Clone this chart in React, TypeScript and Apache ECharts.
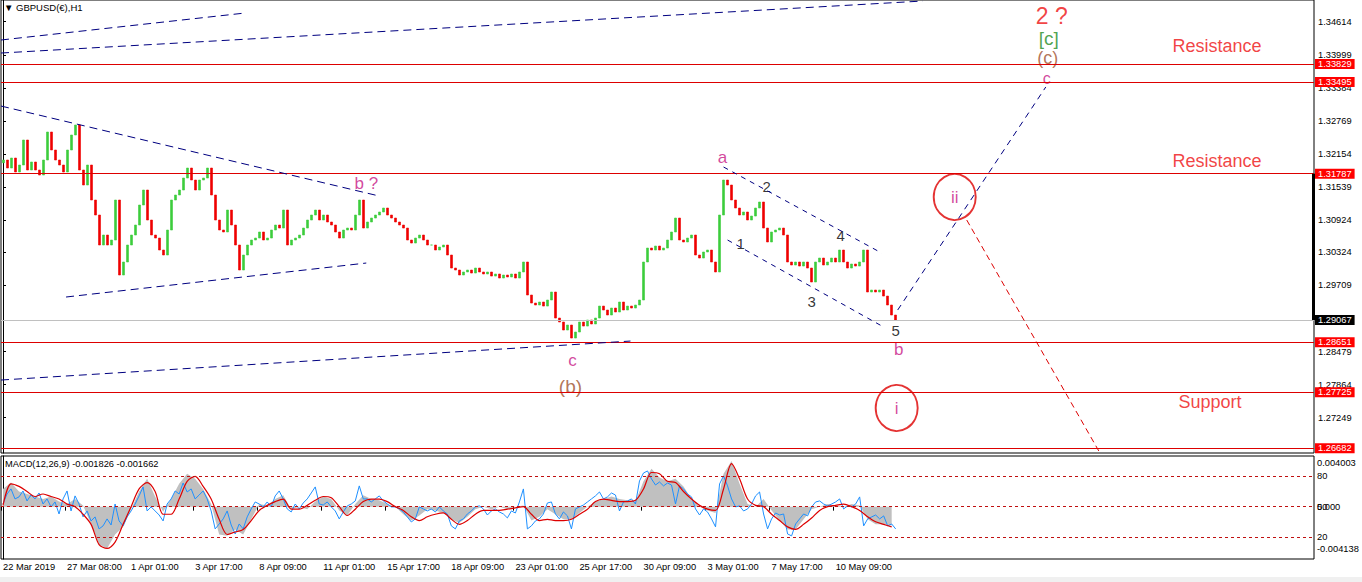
import React, { useEffect, useRef } from "react";
import * as echarts from "echarts";

// ---------- data ----------
const tickLabels = [
  "22 Mar 2019", "27 Mar 08:00", "1 Apr 01:00", "3 Apr 17:00", "8 Apr 09:00",
  "11 Apr 01:00", "15 Apr 17:00", "18 Apr 09:00", "23 Apr 01:00", "25 Apr 17:00",
  "30 Apr 09:00", "3 May 01:00", "7 May 17:00", "10 May 09:00",
];

const priceTickLabels = [
  "1.34614", "1.33999", "1.33384", "1.32769", "1.32154", "1.31539", "1.30924",
  "1.30324", "1.29709", "1.28479", "1.27864", "1.27249",
];

// 4-hour closes (GBPUSD)
const firstOpen = 1.3199;
const closes = [
  1.32042, 1.31893, 1.32079, 1.31819, 1.31949, 1.32414, 1.31856, 1.32005, 1.31856, 1.31763,
  1.32042, 1.32563, 1.32228, 1.32042, 1.31949, 1.31819, 1.32228, 1.32507, 1.32693, 1.31856,
  1.31577, 1.31949, 1.31298, 1.31019, 1.30461, 1.30647, 1.30461, 1.30554, 1.31298, 1.29903,
  1.30145, 1.30461, 1.30647, 1.30833, 1.31205, 1.31484, 1.30926, 1.30647, 1.30591, 1.30368,
  1.30275, 1.30740, 1.31298, 1.31391, 1.31484, 1.31707, 1.31893, 1.31670, 1.31484, 1.31670,
  1.31707, 1.31893, 1.31391, 1.30926, 1.30740, 1.30703, 1.31112, 1.30833, 1.30461, 1.29996,
  1.30275, 1.30461, 1.30554, 1.30591, 1.30703, 1.30554, 1.30591, 1.30740, 1.30833, 1.30777,
  1.31112, 1.30461, 1.30554, 1.30591, 1.30647, 1.30777, 1.30926, 1.31019, 1.31112, 1.30926,
  1.31019, 1.30889, 1.30833, 1.30703, 1.30591, 1.30740, 1.30777, 1.30740, 1.31019, 1.31298,
  1.30777, 1.30889, 1.30963, 1.31019, 1.31075, 1.31149, 1.31019, 1.30963, 1.30889, 1.30833,
  1.30777, 1.30554, 1.30498, 1.30591, 1.30647, 1.30554, 1.30461, 1.30461, 1.30368, 1.30424,
  1.30461, 1.30275, 1.30033, 1.29996, 1.29903, 1.29959, 1.29996, 1.29940, 1.30033, 1.29959,
  1.29922, 1.29959, 1.29884, 1.29922, 1.29847, 1.29903, 1.29866, 1.29922, 1.29847, 1.29959,
  1.30145, 1.29531, 1.29382, 1.29345, 1.29401, 1.29326, 1.29438, 1.29587, 1.29103, 1.29029,
  1.28880, 1.28973, 1.28731, 1.28843, 1.29029, 1.28954, 1.29066, 1.28992, 1.29103, 1.29326,
  1.29252, 1.29159, 1.29289, 1.29215, 1.29401, 1.29252, 1.29326, 1.29289, 1.29345, 1.29438,
  1.30145, 1.30405, 1.30368, 1.30442, 1.30368, 1.30405, 1.30554, 1.30703, 1.30963, 1.30554,
  1.30517, 1.30591, 1.30647, 1.30275, 1.30219, 1.30331, 1.30368, 1.30145, 1.29959, 1.31019,
  1.31670, 1.31577, 1.31298, 1.31149, 1.31019, 1.31075, 1.30926, 1.31000, 1.31149, 1.31261,
  1.30777, 1.30517, 1.30703, 1.30740, 1.30777, 1.30647, 1.30145, 1.30089, 1.30145, 1.30070,
  1.30145, 1.30033, 1.29773, 1.30145, 1.30219, 1.30089, 1.30145, 1.30219, 1.30145, 1.30368,
  1.30145, 1.30033, 1.30108, 1.30070, 1.30145, 1.30368, 1.29587, 1.29624, 1.29587, 1.29624,
  1.29512, 1.29345, 1.29159, 1.29066,
];

const resistanceLevels = [1.33829, 1.33495, 1.31787];
const supportLevels = [1.28651, 1.27725, 1.26682];
const currentPrice = 1.29067;

// MACD main (histogram), one value per 8 hours
const macdMain = [
  0.0014, 0.0019, 0.0012, 0.0010, 0.0008, 0.0006, 0.0008, 0.0004, 0.0002, 0.0006,
  0.0001, -0.0014, -0.0030, -0.0033, -0.0022, -0.0016, -0.0002, 0.0012, 0.0022, 0.0008,
  -0.0004, 0.0006, 0.0018, 0.0026, 0.0022, 0.0014, 0.0002, -0.0022, -0.0023, -0.0018,
  -0.0022, -0.0010, 0.0002, 0.0001, 0.0006, 0.0009, -0.0002, 0.0000, -0.0002, 0.0004,
  0.0008, 0.0006, -0.0003, -0.0007, 0.0002, 0.0009, 0.0006, 0.0005, 0.0002, 0.0000,
  -0.0006, -0.0011, -0.0007, -0.0002, -0.0003, -0.0005, -0.0010, -0.0013, -0.0008, -0.0002,
  0.0000, -0.0002, 0.0000, -0.0002, 0.0000, 0.0001, -0.0011, -0.0008, -0.0002, -0.0006,
  -0.0010, -0.0010, -0.0005, 0.0000, 0.0004, 0.0006, 0.0008, 0.0006, 0.0005, 0.0004,
  0.0020, 0.0030, 0.0023, 0.0020, 0.0022, 0.0016, 0.0006, 0.0000, -0.0003, -0.0005,
  0.0026, 0.0036, 0.0018, 0.0002, 0.0000, 0.0006, -0.0003, -0.0011, -0.0018, -0.0018,
  -0.0010, -0.0002, 0.0000, 0.0002, 0.0001, 0.0000, 0.0002, 0.0001, -0.0010, -0.0014,
  -0.0014, -0.0015,
];

// MACD signal, one value per 8 hours
const macdSignal = [
  0.0001, 0.0018, 0.0016, 0.0012, 0.0008, 0.0010, 0.0008, 0.0006, 0.0002, 0.0000,
  -0.0006, -0.0014, -0.0030, -0.0033, -0.0028, -0.0014, 0.0000, 0.0014, 0.0019, 0.0012,
  -0.0006, -0.0006, 0.0006, 0.0020, 0.0024, 0.0016, 0.0006, -0.0010, -0.0022, -0.0020,
  -0.0018, -0.0011, -0.0003, 0.0001, 0.0004, 0.0006, -0.0002, -0.0002, 0.0001, 0.0005,
  0.0008, 0.0007, 0.0000, -0.0007, -0.0002, 0.0004, 0.0006, 0.0006, 0.0004, 0.0000,
  -0.0003, -0.0008, -0.0011, -0.0008, -0.0006, -0.0005, -0.0010, -0.0014, -0.0011, -0.0006,
  -0.0003, -0.0003, -0.0003, -0.0002, -0.0001, 0.0000, -0.0006, -0.0011, -0.0010, -0.0011,
  -0.0011, -0.0010, -0.0006, -0.0002, 0.0004, 0.0006, 0.0005, 0.0004, 0.0004, 0.0005,
  0.0014, 0.0027, 0.0026, 0.0020, 0.0019, 0.0012, 0.0006, 0.0001, -0.0002, -0.0003,
  0.0014, 0.0034, 0.0022, 0.0006, 0.0001, 0.0000, -0.0006, -0.0011, -0.0016, -0.0018,
  -0.0014, -0.0009, -0.0003, 0.0000, 0.0001, 0.0002, 0.0000, -0.0003, -0.0008, -0.0012,
  -0.0014, -0.0016,
];

// fast (blue) line, one value per 4 hours
const macdFast = [
  0.00021, 0.00100, 0.00140, 0.00061, 0.00077, 0.00124, 0.00045, 0.00092, 0.00061, 0.00108,
  0.00021, 0.00061, -0.00002, 0.00037, -0.00058, 0.00061, 0.00124, -0.00034, 0.00085, 0.00021,
  -0.00081, -0.00034, -0.00113, -0.00081, -0.00176, -0.00152, -0.00097, -0.00145, 0.00021, -0.00113,
  -0.00152, -0.00081, -0.00034, 0.00021, 0.00085, 0.00156, -0.00034, -0.00002, -0.00034, -0.00066,
  -0.00113, 0.00021, 0.00061, 0.00124, 0.00100, 0.00187, 0.00116, 0.00140, 0.00061, 0.00092,
  0.00124, 0.00061, -0.00034, -0.00176, -0.00137, -0.00097, -0.00034, -0.00145, -0.00216, -0.00137,
  -0.00176, -0.00081, -0.00018, 0.00037, 0.00021, -0.00002, 0.00037, -0.00002, 0.00085, 0.00124,
  0.00061, -0.00018, -0.00042, 0.00021, -0.00018, 0.00029, 0.00061, 0.00108, 0.00156, 0.00021,
  0.00013, 0.00037, -0.00002, -0.00034, -0.00097, -0.00042, 0.00006, 0.00021, 0.00045, 0.00164,
  0.00061, 0.00061, 0.00037, 0.00061, 0.00085, 0.00045, 0.00021, -0.00002, -0.00002, -0.00018,
  -0.00042, -0.00081, -0.00121, -0.00097, -0.00002, -0.00018, -0.00034, -0.00018, -0.00042, -0.00002,
  -0.00034, -0.00058, -0.00152, -0.00176, -0.00113, -0.00097, -0.00058, -0.00034, -0.00002, 0.00006,
  -0.00018, -0.00066, -0.00034, -0.00018, -0.00042, -0.00058, -0.00089, -0.00034, -0.00050, 0.00037,
  0.00140, -0.00176, -0.00152, -0.00113, -0.00097, -0.00058, 0.00029, 0.00037, -0.00058, -0.00097,
  -0.00042, -0.00073, -0.00176, -0.00018, -0.00002, 0.00013, 0.00037, 0.00061, 0.00085, 0.00116,
  0.00061, 0.00077, 0.00108, 0.00092, -0.00034, 0.00037, 0.00045, 0.00061, 0.00021, 0.00203,
  0.00266, 0.00282, 0.00219, 0.00171, 0.00195, 0.00164, 0.00187, 0.00171, 0.00021, 0.00164,
  0.00140, 0.00100, 0.00077, -0.00018, -0.00066, -0.00018, -0.00042, -0.00097, -0.00160, 0.00179,
  0.00243, 0.00164, 0.00061, -0.00002, 0.00006, -0.00034, -0.00018, 0.00021, 0.00085, 0.00116,
  -0.00058, -0.00176, -0.00097, -0.00050, -0.00066, -0.00058, -0.00216, -0.00231, -0.00137, -0.00097,
  -0.00058, -0.00073, -0.00002, 0.00037, 0.00045, 0.00021, 0.00006, 0.00021, 0.00037, 0.00061,
  -0.00018, 0.00006, -0.00002, 0.00021, 0.00077, -0.00152, -0.00097, -0.00081, -0.00066, -0.00097,
  -0.00073, -0.00152, -0.00137, -0.00176,
];

const macdLevels = [0.0024, 0, -0.0024];
const macdLevelLabels = ["80", "50", "20"];
const macdAxisValues = [0.00345, 0, -0.00335];
const macdAxisLabels = ["0.004003", "0.000", "-0.004138"];

// ---------- styles ----------
const FONT = "Liberation Sans";
const RED = "#dd0000";
const TEXT_RED = "#ee1111";
const MAGENTA = "#c71585";
const BROWN = "#a0522d";
const GREEN = "#228b22";
const NAVY = "#000080";
const SLOTS = 328;

// drawn trend lines: [barIndex, price] pairs
const trendLines = [
  { a: [-0.5, 1.34274], b: [60.5, 1.34776], color: NAVY, dash: [8, 5] },
  { a: [-0.5, 1.34032], b: [229.75, 1.34999], color: NAVY, dash: [8, 5] },
  { a: [-0.5, 1.33046], b: [94, 1.31372], color: NAVY, dash: [8, 5] },
  { a: [15.75, 1.29494], b: [90.75, 1.30126], color: NAVY, dash: [8, 5] },
  { a: [-0.5, 1.2795], b: [156.75, 1.28675], color: NAVY, dash: [8, 5] },
  { a: [180, 1.31912], b: [219.5, 1.30312], color: NAVY, dash: [5, 5] },
  { a: [181, 1.30554], b: [220, 1.28936], color: NAVY, dash: [5, 5] },
  { a: [223.5, 1.29252], b: [260.5, 1.334], color: NAVY, dash: [6, 5] },
  { a: [240.75, 1.30926], b: [273.75, 1.26629], color: RED, dash: [6, 4] },
];

const waveLabels = [
  { t: "b ?", at: [90.75, 1.31614], color: MAGENTA, size: 17 },
  { t: "c", at: [142.25, 1.28322], color: MAGENTA, size: 17 },
  { t: "(b)", at: [141.75, 1.27838], color: BROWN, size: 19 },
  { t: "a", at: [179.75, 1.32098], color: MAGENTA, size: 17 },
  { t: "1", at: [184.25, 1.30498], color: "#000", size: 15 },
  { t: "2", at: [190.75, 1.31558], color: "#000", size: 15 },
  { t: "3", at: [202, 1.29419], color: "#000", size: 15 },
  { t: "4", at: [209.25, 1.30647], color: "#000", size: 15 },
  { t: "5", at: [223, 1.2888], color: "#000", size: 15 },
  { t: "b", at: [223.75, 1.28527], color: MAGENTA, size: 17 },
  { t: "2 ?", at: [262, 1.3472], color: TEXT_RED, size: 23 },
  { t: "[c]", at: [261.25, 1.34311], color: GREEN, size: 19 },
  { t: "(c)", at: [261, 1.33939], color: BROWN, size: 18 },
  { t: "c", at: [260.75, 1.33567], color: MAGENTA, size: 16 },
  { t: "Resistance", at: [303.25, 1.34162], color: TEXT_RED, size: 18 },
  { t: "Resistance", at: [303.25, 1.32023], color: TEXT_RED, size: 18 },
  { t: "Support", at: [301.5, 1.27541], color: TEXT_RED, size: 18 },
];

const circleLabels = [
  { t: "i", at: [223.25, 1.27429] },
  { t: "ii", at: [237.75, 1.31354] },
];

function buildOption() {
  const candles = closes.map((c, i) => {
    const o = i === 0 ? firstOpen : closes[i - 1];
    return [i, o, c, Math.min(o, c), Math.max(o, c)];
  });

  const levelLine = (v: number, bg: string, lineColor: string) => ({
    yAxis: v,
    lineStyle: { color: lineColor, width: 1, type: "solid" },
    label: {
      show: true,
      position: "end",
      distance: 1,
      formatter: v.toFixed(5),
      backgroundColor: bg,
      color: "#fff",
      fontFamily: FONT,
      fontSize: 9.3,
      padding: [1, 3, 0, 3],
    },
  });

  const markLineData: any[] = [
    ...resistanceLevels.map((v) => levelLine(v, "#ff0000", RED)),
    ...supportLevels.map((v) => levelLine(v, "#ff0000", RED)),
    levelLine(currentPrice, "#000000", "#c0c0c0"),
    ...trendLines.map((l) => [
      { coord: l.a, lineStyle: { color: l.color, width: 1, type: l.dash } },
      { coord: l.b },
    ]),
    [
      { coord: [327.3, resistanceLevels[2]], lineStyle: { color: "#000", width: 3, type: "solid" } },
      { coord: [327.3, currentPrice] },
    ],
  ];

  const macdLine = macdMain.map((v, j) => [2 * j, v]);
  const sigLine = macdSignal.map((v, j) => [2 * j, v]);
  const fastLine = macdFast.map((v, i) => [i, v]);

  return {
    animation: false,
    backgroundColor: "#ffffff",
    textStyle: { fontFamily: FONT },
    grid: [
      { left: 1, right: 48, top: 0, height: 453, show: true, borderColor: "#000", borderWidth: 1, backgroundColor: "#fff" },
      { left: 1, right: 48, top: 456, height: 103, show: true, borderColor: "#000", borderWidth: 1, backgroundColor: "#fff" },
    ],
    xAxis: [
      { type: "value", gridIndex: 0, min: -0.5, max: SLOTS - 0.5, show: false, splitLine: { show: false } },
      {
        type: "value",
        gridIndex: 1,
        min: -0.5,
        max: SLOTS - 0.5,
        splitLine: { show: false },
        axisLine: { show: false },
        axisTick: {
          show: true,
          length: 4,
          lineStyle: { color: "#000" },
          customValues: tickLabels.map((_, k) => k * 16 - 0.5),
        },
        axisLabel: {
          show: true,
          customValues: tickLabels.map((_, k) => k * 16 - 0.5),
          formatter: (v: number) => tickLabels[Math.round((v + 0.5) / 16)] ?? "",
          align: "left",
          padding: [0, 0, 0, 2],
          margin: 3,
          color: "#000",
          fontFamily: FONT,
          fontSize: 9.3,
          hideOverlap: false,
          showMinLabel: true,
          showMaxLabel: true,
        },
      },
    ],
    yAxis: [
      {
        type: "value",
        gridIndex: 0,
        position: "right",
        min: 1.26593,
        max: 1.35018,
        splitLine: { show: false },
        axisLine: { show: true, lineStyle: { color: "#000" } },
        axisTick: {
          show: true,
          length: 3,
          lineStyle: { color: "#000" },
          customValues: priceTickLabels.map((s) => parseFloat(s)),
        },
        axisLabel: {
          customValues: priceTickLabels.map((s) => parseFloat(s)),
          formatter: (v: number) => priceTickLabels.find((s) => Math.abs(parseFloat(s) - v) < 1e-7) ?? "",
          margin: 4,
          color: "#000",
          fontFamily: FONT,
          fontSize: 9.3,
          hideOverlap: false,
        },
      },
      {
        type: "value",
        gridIndex: 1,
        position: "right",
        min: -0.004138,
        max: 0.004003,
        splitLine: { show: false },
        axisLine: { show: true, lineStyle: { color: "#000" } },
        axisTick: { show: false },
        axisLabel: {
          customValues: macdAxisValues,
          formatter: (v: number) => macdAxisLabels[macdAxisValues.indexOf(v)] ?? "",
          margin: 3,
          color: "#000",
          fontFamily: FONT,
          fontSize: 9.3,
          hideOverlap: false,
        },
      },
    ],
    graphic: [
      { type: "rect", left: 0, top: 577, shape: { width: 1362, height: 5 }, style: { fill: "#f0f0f0" }, silent: true },
      {
        type: "text",
        left: 4,
        top: 2,
        style: { text: "▼ GBPUSD(€),H1", fontFamily: FONT, fontSize: 9.5, fill: "#000" },
        silent: true,
      },
      {
        type: "text",
        left: 5,
        top: 459,
        style: { text: "MACD(12,26,9) -0.001826 -0.001662", fontFamily: FONT, fontSize: 9.3, fill: "#000" },
        silent: true,
      },
    ],
    series: [
      {
        type: "candlestick",
        name: "GBPUSD",
        xAxisIndex: 0,
        yAxisIndex: 0,
        data: candles,
        encode: { x: 0, y: [1, 2, 3, 4] },
        barWidth: 2.5,
        silent: true,
        itemStyle: {
          color: "#3ccc3c",
          color0: "#ee0000",
          borderColor: "#3ccc3c",
          borderColor0: "#ee0000",
          borderWidth: 0.6,
        },
        markLine: {
          silent: true,
          precision: 6,
          symbol: ["none", "none"],
          label: { show: false },
          emphasis: { disabled: true },
          data: markLineData,
        },
      },
      {
        type: "scatter",
        xAxisIndex: 0,
        yAxisIndex: 0,
        silent: true,
        symbol: "circle",
        symbolSize: 1,
        itemStyle: { color: "rgba(0,0,0,0)" },
        data: waveLabels.map((w) => ({
          value: w.at,
          label: {
            show: true,
            position: "inside",
            formatter: w.t,
            color: w.color,
            fontSize: w.size,
            fontFamily: FONT,
          },
        })),
      },
      {
        type: "scatter",
        xAxisIndex: 0,
        yAxisIndex: 0,
        silent: true,
        symbol: "circle",
        symbolSize: [42, 46],
        itemStyle: { color: "rgba(0,0,0,0)", borderColor: "#dd0000", borderWidth: 2 },
        data: circleLabels.map((c) => ({
          value: c.at,
          label: {
            show: true,
            position: "inside",
            formatter: c.t,
            color: MAGENTA,
            fontSize: 17,
            fontFamily: FONT,
          },
        })),
      },
      {
        type: "line",
        name: "MACD",
        xAxisIndex: 1,
        yAxisIndex: 1,
        data: macdLine,
        symbol: "none",
        silent: true,
        lineStyle: { width: 0, opacity: 0 },
        areaStyle: { color: "#c0c0c0", opacity: 1 },
        markLine: {
          silent: true,
          precision: 6,
          symbol: ["none", "none"],
          data: macdLevels.map((v, k) => ({
            yAxis: v,
            lineStyle: { color: "#c01010", width: 1, type: [3, 3] },
            label: {
              show: true,
              position: "end",
              distance: 3,
              formatter: macdLevelLabels[k],
              color: "#000",
              fontFamily: FONT,
              fontSize: 9.3,
            },
          })),
        },
      },
      {
        type: "line",
        name: "Fast",
        xAxisIndex: 1,
        yAxisIndex: 1,
        data: fastLine,
        symbol: "none",
        silent: true,
        lineStyle: { color: "#1e90ff", width: 1 },
      },
      {
        type: "line",
        name: "Signal",
        xAxisIndex: 1,
        yAxisIndex: 1,
        data: sigLine,
        symbol: "none",
        smooth: 0.3,
        silent: true,
        lineStyle: { color: "#dd0000", width: 1.2 },
      },
    ],
  };
}

export default function App() {
  const ref = useRef<HTMLDivElement>(null);
  useEffect(() => {
    if (!ref.current) return;
    const chart = echarts.init(ref.current, null, { renderer: "svg" });
    chart.setOption(buildOption() as any);
    return () => chart.dispose();
  }, []);
  return (
    <div
      ref={ref}
      style={{ position: "fixed", left: 0, top: 0, width: 1362, height: 582, background: "#fff" }}
    />
  );
}
